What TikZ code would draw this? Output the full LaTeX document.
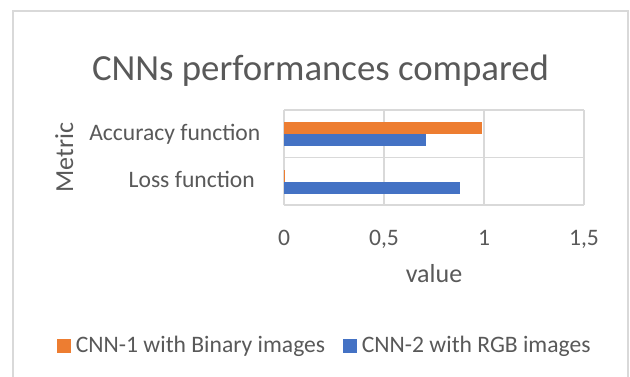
\documentclass[tikz,border=0pt]{standalone}
\usepackage{fontspec}
\setmainfont{Carlito}
\usetikzlibrary{positioning}
\definecolor{xlorange}{HTML}{ED7D31}
\definecolor{xlblue}{HTML}{4472C4}
\definecolor{xlgrid}{HTML}{D9D9D9}
\definecolor{xltext}{HTML}{595959}

\begin{document}
\begin{tikzpicture}[
        x=1pt, y=1pt,
        gridline/.style={draw=xlgrid, line width=1.1pt},
        txt/.style={text=xltext, inner sep=0pt, font=\fontsize{23.6}{28}\selectfont},
        axtitle/.style={txt, font=\fontsize{26}{31}\selectfont},
        key/.style={minimum size=14pt, inner sep=0pt}
    ]
        \useasboundingbox[fill=white] (0,0) rectangle (630,376);

        % Marco del grafico (abierto por abajo)
        \draw[draw=xlgrid, line width=1.5pt] (13,-5) |- (628,365) -- (628,-5);

        % Titulo
        \node[txt, font=\fontsize{36.8}{44}\selectfont, anchor=base] (title) at (320.5, 296) {CNNs performances compared};

        % Rejilla del area de trazado
        \foreach \i in {0,...,3}
            \draw[gridline] (284+100*\i, 171) -- (284+100*\i, 266);
        \foreach \y in {171, 218.5, 266}
            \draw[gridline] (284, \y) -- (584, \y);

        % Barras (valor, base, color)
        \foreach \v/\y/\c in {0.99/242/xlorange, 0.71/230/xlblue, 0.0008/194/xlorange, 0.88/182/xlblue}
            \fill[\c] (284, \y) rectangle ++(200*\v, 12);

        % Ejes
        \foreach \t [count=\i from 0] in {0, {0,5}, 1, {1,5}}
            \node[txt, anchor=base] (tick-\i) at (284+100*\i, 131) {\t};
        \node[axtitle, anchor=base] (xtitle) at (434, 94) {value};
        \node[axtitle, rotate=90, anchor=base] (ytitle) at (73, 218.5) {Metric};
        \node[txt, anchor=base east] (cat-acc) at (260.5, 236) {Accuracy function};
        \node[txt, anchor=base east] (cat-loss) at (255, 188.3) {Loss function};

        % Leyenda
        \node[key, fill=xlorange] (key-1) at (64, 30) {};
        \node[txt, right=4.5pt of key-1] (leg-1) {CNN-1 with Binary images};
        \node[key, fill=xlblue] (key-2) at (350, 30) {};
        \node[txt, right=4.5pt of key-2] (leg-2) {CNN-2 with RGB images};

    \end{tikzpicture}
\end{document}
